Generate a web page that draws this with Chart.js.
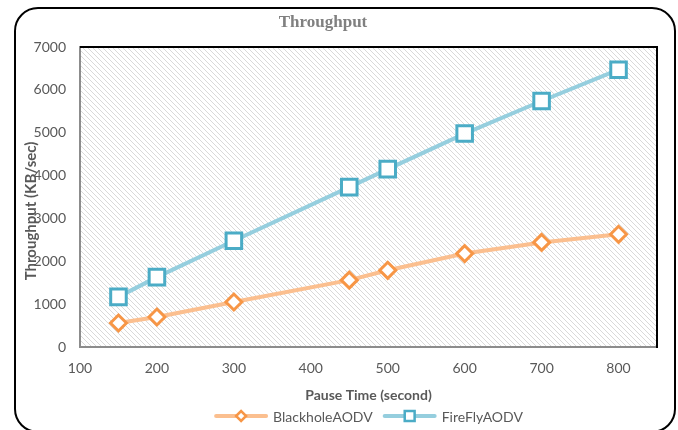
<!DOCTYPE html>
<html>
<head>
<meta charset="utf-8">
<script src="https://cdn.jsdelivr.net/npm/chart.js@4.4.1/dist/chart.umd.min.js"></script>
<style>
  html, body { margin: 0; padding: 0; background: #fff; overflow: hidden; }
  #wrap { position: relative; width: 678px; height: 430px; overflow: hidden; }
  #frame {
    position: absolute; left: 14px; top: 7px; width: 662px; height: 426px;
    box-sizing: border-box; border: 2px solid #000; border-radius: 24px;
    pointer-events: none;
  }
  canvas { position: absolute; left: 0; top: 0; }
</style>
</head>
<body>
<div id="wrap">
  <canvas id="chart" width="678" height="430"></canvas>
  <div id="frame"></div>
</div>
<script>
// values
var pauseTimes = [150, 200, 300, 450, 500, 600, 700, 800];
var blackholeAODV = [560, 700, 1050, 1560, 1790, 2180, 2440, 2630];
var fireFlyAODV = [1170, 1630, 2480, 3730, 4150, 4980, 5740, 6470];
var xTicks = [100, 200, 300, 400, 500, 600, 700, 800];

var chartTitle = "Throughput";
var xTitle = "Pause Time (second)";
var yTitle = "Throughput (KB/sec)";

var SANS = "Lato, 'Open Sans', sans-serif";
var TXT = "#595959";

function points(ys) {
  return pauseTimes.map(function (x, i) { return { x: x, y: ys[i] }; });
}

function hatchPattern(ctx) {
  var c = document.createElement("canvas");
  c.width = 5; c.height = 5;
  var g = c.getContext("2d");
  g.fillStyle = "#fff";
  g.fillRect(0, 0, 5, 5);
  g.strokeStyle = "#d9d9d9";
  g.lineWidth = 1;
  g.beginPath();
  g.moveTo(-1, -1); g.lineTo(6, 6);
  g.moveTo(-1, 4); g.lineTo(1, 6);
  g.moveTo(4, -1); g.lineTo(6, 1);
  g.stroke();
  return ctx.createPattern(c, "repeat");
}

var decor = {
  id: "decor",
  beforeDraw: function (chart) {
    var a = chart.chartArea, ctx = chart.ctx;
    ctx.save();
    ctx.fillStyle = hatchPattern(ctx);
    ctx.fillRect(a.left, a.top, a.right - a.left, a.bottom - a.top);
    ctx.restore();
  },
  beforeDatasetsDraw: function (chart) {
    var a = chart.chartArea, ctx = chart.ctx;
    ctx.save();
    ctx.strokeStyle = "#000";
    ctx.lineWidth = 2;
    ctx.beginPath();
    ctx.moveTo(a.left, a.top);
    ctx.lineTo(a.right, a.top);
    ctx.lineTo(a.right, a.bottom + 1);
    ctx.stroke();
    ctx.restore();
  },
  afterDraw: function (chart) {
    var a = chart.chartArea, ctx = chart.ctx;
    ctx.save();
    // chart title
    ctx.fillStyle = "#808080";
    ctx.font = "bold 17px 'Liberation Serif', serif";
    ctx.textAlign = "center";
    ctx.textBaseline = "alphabetic";
    ctx.fillText(chartTitle, 323, 27);
    // y axis title (Excel put it over the tick labels)
    ctx.fillStyle = TXT;
    ctx.font = "bold 15px " + SANS;
    ctx.translate(31, 211);
    ctx.rotate(-Math.PI / 2);
    ctx.textBaseline = "middle";
    ctx.fillText(yTitle, 0, 0);
    ctx.restore();

    // legend: line + marker, centred under the plot
    ctx.save();
    ctx.font = "14px " + SANS;
    ctx.textBaseline = "middle";
    ctx.textAlign = "left";
    var sets = chart.data.datasets;
    var lineW = 54, gap = 5, itemGap = 10;
    var widths = sets.map(function (d) { return lineW + gap + ctx.measureText(d.label).width; });
    var total = widths.reduce(function (s, w) { return s + w; }, 0) + itemGap * (sets.length - 1);
    var x = (a.left + a.right) / 2 - total / 2;
    var y = 416;
    sets.forEach(function (d, i) {
      ctx.strokeStyle = d.borderColor;
      ctx.lineWidth = 4;
      ctx.lineCap = "round";
      ctx.beginPath();
      ctx.moveTo(x + 2, y);
      ctx.lineTo(x + lineW - 2, y);
      ctx.stroke();
      ctx.fillStyle = "#fff";
      ctx.strokeStyle = d.pointBorderColor;
      ctx.lineWidth = 2.5;
      Chart.helpers.drawPoint(ctx, {
        pointStyle: d.pointStyle,
        radius: d.pointStyle === "rect" ? 7 : 5,
        rotation: 0,
        borderWidth: 2.5
      }, x + lineW / 2, y);
      ctx.fillStyle = TXT;
      ctx.fillText(d.label, x + lineW + gap, y + 1);
      x += widths[i] + itemGap;
    });
    ctx.restore();
  }
};

new Chart(document.getElementById("chart").getContext("2d"), {
  type: "line",
  data: {
    datasets: [{
      label: "BlackholeAODV",
      data: points(blackholeAODV),
      borderColor: "#fbbf8f",
      borderWidth: 4,
      pointStyle: "rectRot",
      pointRadius: 8,
      pointBorderWidth: 3,
      pointBorderColor: "#f79646",
      pointBackgroundColor: "#fff",
      tension: 0
    }, {
      label: "FireFlyAODV",
      data: points(fireFlyAODV),
      borderColor: "#95cede",
      borderWidth: 4,
      pointStyle: "rect",
      pointRadius: 11,
      pointBorderWidth: 3,
      pointBorderColor: "#4bacc6",
      pointBackgroundColor: "#fff",
      tension: 0
    }]
  },
  options: {
    responsive: false,
    animation: false,
    layout: { padding: { left: 0, right: 21, top: 47, bottom: 22 } },
    plugins: {
      legend: { display: false },
      title: { display: false },
      tooltip: { enabled: false }
    },
    scales: {
      x: {
        type: "linear",
        min: 100,
        max: 850,
        afterBuildTicks: function (scale) {
          scale.ticks = xTicks.map(function (v) { return { value: v }; });
        },
        afterFit: function (scale) { scale.height = 61; },
        grid: { display: false, drawTicks: false },
        border: { display: true, color: "#8c8c8c", width: 2 },
        ticks: { color: TXT, font: { family: SANS, size: 14 }, padding: 13, maxRotation: 0 },
        title: {
          display: true,
          text: xTitle,
          color: TXT,
          font: { family: SANS, size: 14, weight: "bold" },
          padding: { top: 0, bottom: 4 }
        }
      },
      y: {
        min: 0,
        max: 7000,
        afterFit: function (scale) { scale.width = 80; },
        grid: { display: false, drawTicks: false },
        border: { display: true, color: "#8c8c8c", width: 2 },
        ticks: {
          stepSize: 1000,
          color: TXT,
          font: { family: SANS, size: 14 },
          padding: 14,
          callback: function (v) { return String(v); }
        }
      }
    }
  },
  plugins: [decor]
});
</script>
</body>
</html>
